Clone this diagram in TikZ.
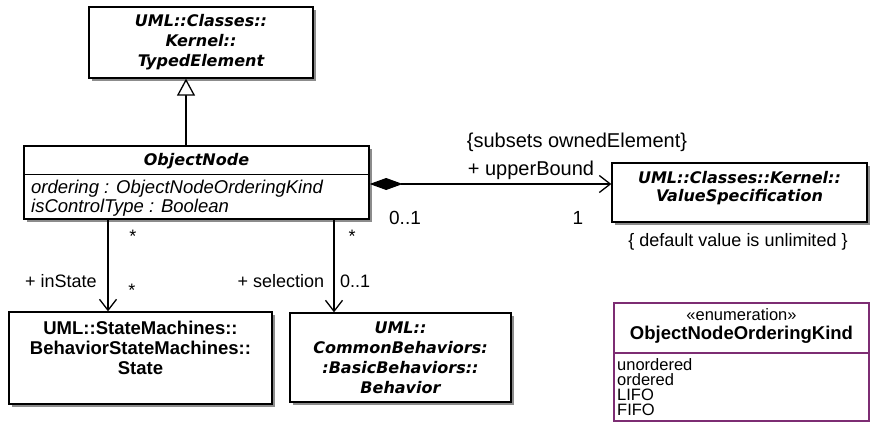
\documentclass[tikz,border=0pt]{standalone}
\usepackage{fontspec}
\setmainfont{Liberation Sans}
\newfontfamily\dvfont{DejaVu Sans}
\usetikzlibrary{arrows.meta,shadows}
\definecolor{enumc}{RGB}{125,45,115}
\newcommand\fsz[2]{\fontsize{#1}{#2}\selectfont}
\begin{document}
\begin{tikzpicture}[x=1pt,y=-1pt,
  box/.style={draw, line width=1.3pt, fill=white, inner sep=0pt,
    drop shadow={shadow xshift=2.5pt, shadow yshift=-2.5pt, fill=black!45, opacity=1}},
  cname/.style={font={\dvfont\bfseries\itshape\fsz{16}{20}}, align=center, inner sep=0pt},
  sname/.style={font={\bfseries\fsz{18.5}{20}}, align=center, inner sep=0pt},
  lbl/.style={font={\fsz{18}{20}}, inner sep=0pt},
  attr/.style={font={\itshape\fsz{18.5}{20}}, inner sep=0pt, anchor=base west},
  items/.style={font={\fsz{16.5}{15}}, inner sep=0pt, anchor=north west, align=left},
  assoc/.style={line width=1.3pt, -{Straight Barb[length=11pt, width=17pt]}},
]
\useasboundingbox (0,0) rectangle (870,432);

% boxes
\node[box, minimum width=224pt, minimum height=71pt] (te) at (201,42.5) {};
\node[cname] (tet) at (201,42.5) {UML::Classes::\\Kernel::\\TypedElement};

\node[box, minimum width=345pt, minimum height=73pt] (on) at (196.5,182.5) {};
\node[cname] (ont) at (196.5,161) {ObjectNode};
\coordinate (ond) at (0,174);
\draw[line width=1pt] (on.west |- ond) -- (on.east |- ond);
\node[attr] (ona) at (31,193) {ordering : ObjectNodeOrderingKind};
\node[attr] (onb) at (31,212) {isControlType : Boolean};

\node[box, minimum width=255pt, minimum height=59pt] (vs) at (739.5,192.5) {};
\node[cname, font={\dvfont\bfseries\itshape\fsz{16}{18}}] (vst) at (739.5,188) {UML::Classes::Kernel::\\ValueSpecification};

\node[box, minimum width=263pt, minimum height=92pt] (st) at (140.5,358) {};
\node[sname] (stt) at (140.5,348) {UML::StateMachines::\\BehaviorStateMachines::\\State};

\node[box, minimum width=221pt, minimum height=89pt] (bh) at (400.5,357.5) {};
\node[cname] (bht) at (400.5,358) {UML::\\CommonBehaviors:\\:BasicBehaviors::\\Behavior};

% enumeration
\node[draw=enumc, line width=1.3pt, fill=white, minimum width=255pt, minimum height=118pt, inner sep=0pt] (en) at (741.5,362) {};
\coordinate (ed) at (0,353);
\draw[enumc, line width=1.2pt] (en.west |- ed) -- (en.east |- ed);
\node[font={\fsz{16.5}{18}}, inner sep=0pt] (ens) at (741.5,314.5) {«enumeration»};
\node[sname] (enn) at (741.5,334.5) {ObjectNodeOrderingKind};
\node[items] (eit) at (617,358) {unordered\\ordered\\LIFO\\FIFO};

% connectors
\coordinate (gx) at (186,0);
\draw[line width=1.3pt, -{Triangle[open, fill=white, length=17pt, width=18pt]}] (on.north -| gx) -- (te.south -| gx);
\coordinate (cy) at (0,184);
\draw[line width=1.3pt, {Diamond[length=33pt, width=12pt]}-{Straight Barb[length=11pt, width=17pt]}] (on.east |- cy) -- (vs.west |- cy);
\coordinate (ix) at (108,0);
\draw[assoc] (on.south -| ix) -- (st.north -| ix);
\coordinate (sx) at (334,0);
\draw[assoc] (on.south -| sx) -- (bh.north -| sx);

% labels
\node[lbl, font={\fsz{20}{22}}] (lsub) at (577,142) {\{subsets ownedElement\}};
\node[lbl, font={\fsz{20}{22}}] (lup) at (531,170) {+ upperBound};
\node[lbl, font={\fsz{19}{20}}] (lzo) at (405,218) {0..1};
\node[lbl, font={\fsz{19}{20}}] (lone) at (578,218) {1};
\node[lbl] (ldef) at (738,242) {\{ default value is unlimited \}};
\node[lbl] (lins) at (61,281) {+ inState};
\node[lbl] (lsel) at (281,281) {+ selection};
\node[lbl, anchor=west] (lzo2) at (340,281) {0..1};
\node[lbl] (s1) at (133,236) {*};
\node[lbl] (s2) at (132,290) {*};
\node[lbl] (s3) at (352,236) {*};
\end{tikzpicture}
\end{document}
